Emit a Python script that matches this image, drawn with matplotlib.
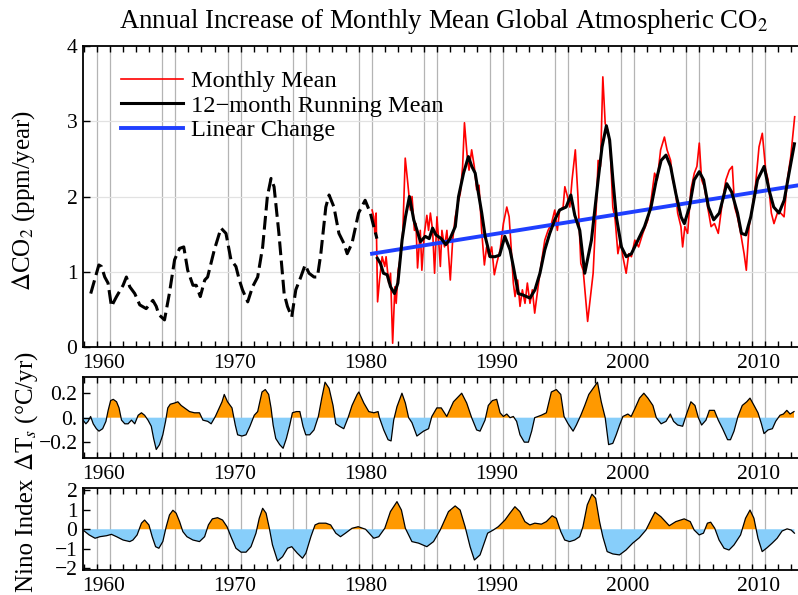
import numpy as np
import matplotlib
matplotlib.use('Agg')
import matplotlib.pyplot as plt

plt.rcParams['font.family'] = ['Liberation Serif', 'DejaVu Serif']
plt.rcParams['mathtext.fontset'] = 'stix'

# --- annual CO2 increase, 12-month running mean before 1981 (dashed) ---
early_years = [1959.05, 1959.67, 1959.87, 1960.12, 1960.37, 1960.63, 1961.02, 1961.52, 1961.77,
               1962.03, 1962.41, 1962.79, 1963.28, 1963.79, 1964.05, 1964.25, 1964.68, 1965.05,
               1965.45, 1965.83, 1966.15, 1966.45, 1966.85, 1967.1, 1967.41, 1967.75, 1967.97,
               1968.48, 1968.99, 1969.37, 1969.75, 1970.13, 1970.39, 1970.63, 1971.03, 1971.4,
               1971.79, 1972.17, 1972.53, 1972.81, 1973.04, 1973.41, 1973.81, 1974.06, 1974.39,
               1974.7, 1975.08, 1975.41, 1975.71, 1976.09, 1976.35, 1976.61, 1976.99, 1977.24,
               1977.61, 1977.99, 1978.36, 1978.62, 1978.99, 1979.49, 1979.99, 1980.39, 1980.65,
               1980.89]
early_vals = [0.71, 1.09, 1.07, 0.93, 0.85, 0.54, 0.67, 0.82, 0.93,
              0.80, 0.71, 0.56, 0.51, 0.62, 0.54, 0.43, 0.36, 0.71,
              1.16, 1.31, 1.33, 1.02, 0.82, 0.82, 0.67, 0.89, 0.93,
              1.29, 1.58, 1.51, 1.16, 1.07, 0.89, 0.76, 0.60, 0.80,
              0.93, 1.33, 2.00, 2.24, 2.13, 1.51, 0.71, 0.54, 0.40,
              0.76, 0.93, 1.09, 0.98, 0.93, 0.93, 1.24, 1.86, 2.02,
              1.86, 1.51, 1.38, 1.24, 1.38, 1.78, 1.95, 1.78, 1.60,
              1.44]

# --- 12-month running mean from 1981 ---
mean_years = [1980.92, 1981.16, 1981.39, 1981.67, 1981.93, 1982.23, 1982.49, 1982.81, 1983.07,
              1983.37, 1983.7, 1983.95, 1984.21, 1984.58, 1984.88, 1985.14, 1985.39, 1985.8,
              1986.15, 1986.47, 1986.87, 1987.12, 1987.5, 1987.87, 1988.13, 1988.39, 1988.64,
              1988.89, 1989.15, 1989.53, 1989.9, 1990.25, 1990.65, 1991.05, 1991.3, 1991.68,
              1992.05, 1992.57, 1992.95, 1993.33, 1993.7, 1994.08, 1994.46, 1994.83, 1995.33,
              1995.69, 1995.99, 1996.37, 1996.75, 1997.26, 1997.77, 1998.07, 1998.4, 1998.65,
              1998.9, 1999.16, 1999.55, 1999.92, 2000.31, 2000.81, 2001.31, 2001.81, 2002.21,
              2002.58, 2002.95, 2003.3, 2003.7, 2004.1, 2004.35, 2004.74, 2005.1, 2005.49,
              2005.82, 2006.19, 2006.59, 2007.02, 2007.59, 2007.96, 2008.41, 2008.71, 2009.04,
              2009.42, 2009.93, 2010.44, 2010.81, 2011.17, 2011.57, 2011.97, 2012.34, 2012.75]
mean_vals = [1.18, 1.11, 0.98, 0.96, 0.80, 0.71, 0.85, 1.42, 1.73,
             2.00, 1.69, 1.55, 1.40, 1.47, 1.44, 1.58, 1.49, 1.44,
             1.36, 1.44, 1.60, 2.00, 2.31, 2.53, 2.40, 2.31, 2.04,
             1.78, 1.47, 1.20, 1.20, 1.22, 1.47, 1.29, 1.07, 0.71,
             0.69, 0.65, 0.76, 0.98, 1.29, 1.51, 1.69, 1.82, 1.86,
             2.02, 1.75, 1.55, 0.98, 1.42, 2.22, 2.66, 2.94, 2.75,
             2.22, 1.73, 1.33, 1.20, 1.24, 1.42, 1.60, 1.86, 2.22,
             2.48, 2.55, 2.40, 2.04, 1.73, 1.64, 1.86, 2.22, 2.33,
             2.22, 1.86, 1.69, 1.78, 2.17, 2.06, 1.78, 1.51, 1.49,
             1.73, 2.22, 2.40, 2.09, 1.86, 1.78, 1.95, 2.31, 2.70]

# --- monthly mean ---
month_years = [1980.52, 1980.65, 1980.73, 1980.83, 1980.94, 1981.09, 1981.29, 1981.49, 1981.59,
               1981.79, 1981.93, 1982.09, 1982.26, 1982.36, 1982.51, 1982.69, 1982.87, 1983.05,
               1983.25, 1983.44, 1983.57, 1983.75, 1983.87, 1983.99, 1984.2, 1984.32, 1984.51,
               1984.7, 1984.83, 1984.97, 1985.14, 1985.29, 1985.47, 1985.6, 1985.73, 1985.85,
               1986.05, 1986.23, 1986.49, 1986.67, 1986.87, 1987.07, 1987.25, 1987.43, 1987.57,
               1987.77, 1987.92, 1988.12, 1988.32, 1988.5, 1988.68, 1988.88, 1989.09, 1989.26,
               1989.45, 1989.65, 1989.85, 1990.03, 1990.29, 1990.54, 1990.8, 1990.98, 1991.13,
               1991.3, 1991.43, 1991.63, 1991.81, 1991.99, 1992.19, 1992.37, 1992.57, 1992.75,
               1992.93, 1993.19, 1993.43, 1993.7, 1993.95, 1994.21, 1994.46, 1994.66, 1994.83,
               1995.1, 1995.23, 1995.43, 1995.61, 1995.78, 1996.03, 1996.23, 1996.45, 1996.63,
               1996.97, 1997.39, 1997.63, 1997.77, 1997.95, 1998.13, 1998.31, 1998.51, 1998.69,
               1998.89, 1999.07, 1999.28, 1999.48, 1999.66, 1999.91, 2000.11, 2000.31, 2000.57,
               2000.86, 2001.18, 2001.57, 2001.81, 2002.08, 2002.28, 2002.54, 2002.83, 2003.03,
               2003.3, 2003.46, 2003.67, 2003.84, 2004.09, 2004.22, 2004.39, 2004.6, 2004.85,
               2005.11, 2005.31, 2005.49, 2005.67, 2005.87, 2006.13, 2006.39, 2006.65, 2006.94,
               2007.27, 2007.52, 2007.78, 2008.01, 2008.19, 2008.4, 2008.65, 2008.91, 2009.08,
               2009.29, 2009.54, 2009.79, 2010.05, 2010.3, 2010.56, 2010.74, 2010.99, 2011.19,
               2011.45, 2011.7, 2011.96, 2012.21, 2012.47, 2012.77]
month_vals = [1.82, 1.73, 1.51, 1.78, 0.60, 0.89, 1.20, 1.07, 1.20,
              0.85, 0.98, 0.05, 0.80, 0.58, 1.02, 1.20, 1.55, 2.51,
              2.17, 1.82, 2.00, 1.55, 1.64, 1.05, 1.55, 1.02, 1.51,
              1.75, 1.55, 1.78, 1.55, 0.98, 1.73, 1.42, 1.07, 1.55,
              1.33, 1.55, 0.89, 1.42, 1.73, 1.91, 2.04, 2.40, 2.98,
              2.55, 2.35, 2.62, 2.40, 2.09, 2.15, 1.55, 1.09, 1.33,
              1.20, 1.33, 0.96, 1.11, 1.29, 1.64, 1.86, 1.73, 1.33,
              0.85, 0.67, 0.89, 0.54, 0.76, 0.58, 0.85, 0.58, 0.76,
              0.45, 0.80, 1.11, 1.42, 1.55, 1.64, 1.82, 1.55, 1.82,
              1.86, 2.13, 2.00, 1.86, 2.22, 2.62, 2.00, 1.11, 1.02,
              0.34, 0.98, 1.86, 2.48, 2.40, 3.59, 2.97, 2.88, 2.66,
              1.86, 1.69, 1.24, 1.42, 1.20, 0.98, 1.24, 1.20, 1.42,
              1.33, 1.51, 1.69, 1.95, 2.31, 2.22, 2.62, 2.79, 2.62,
              2.48, 2.22, 2.09, 1.78, 1.60, 1.33, 1.60, 1.51, 2.09,
              2.31, 2.40, 2.71, 2.22, 2.13, 1.86, 1.60, 1.64, 1.51,
              1.95, 2.22, 2.35, 2.40, 1.86, 1.73, 1.51, 1.24, 1.02,
              1.60, 1.86, 2.17, 2.66, 2.84, 2.35, 2.22, 1.78, 1.64,
              1.78, 1.78, 1.73, 2.22, 2.53, 3.06]

# --- linear change ---
lin_years = [1980.52, 2013.09]
lin_vals = [1.24, 2.15]

# --- temperature change rate ---
dts_years = [1958.46, 1958.68, 1958.85, 1959.04, 1959.24, 1959.48, 1959.68, 1959.96, 1960.21,
             1960.38, 1960.57, 1960.77, 1961.02, 1961.21, 1961.4, 1961.65, 1961.9, 1962.16,
             1962.41, 1962.67, 1962.92, 1963.16, 1963.42, 1963.67, 1963.85, 1964.05, 1964.3,
             1964.55, 1964.76, 1964.93, 1965.12, 1965.45, 1965.7, 1965.95, 1966.21, 1966.59,
             1966.97, 1967.35, 1967.61, 1967.98, 1968.24, 1968.56, 1968.86, 1969.07, 1969.24,
             1969.49, 1969.83, 1970.08, 1970.26, 1970.59, 1970.9, 1971.2, 1971.53, 1971.79,
             1972.12, 1972.37, 1972.63, 1972.81, 1972.97, 1973.17, 1973.47, 1973.73, 1973.98,
             1974.24, 1974.44, 1974.74, 1975.01, 1975.25, 1975.46, 1975.76, 1976.09, 1976.42,
             1976.68, 1976.93, 1977.24, 1977.54, 1977.75, 1978.03, 1978.36, 1978.69, 1978.99,
             1979.38, 1979.51, 1979.89, 1980.27, 1980.65, 1980.98, 1981.08, 1981.41, 1981.74,
             1981.97, 1982.17, 1982.42, 1982.8, 1983.06, 1983.31, 1983.56, 1983.94, 1984.45,
             1984.83, 1985.08, 1985.46, 1985.8, 1986.22, 1986.73, 1987.36, 1987.74, 1988.12,
             1988.5, 1988.76, 1989.14, 1989.39, 1989.7, 1990.03, 1990.29, 1990.54, 1990.8,
             1991.05, 1991.3, 1991.55, 1991.81, 1992.14, 1992.45, 1992.7, 1992.93, 1993.19,
             1993.43, 1993.82, 1994.2, 1994.58, 1994.92, 1995.17, 1995.48, 1995.86, 1996.11,
             1996.45, 1996.75, 1997.06, 1997.39, 1997.72, 1998.01, 1998.31, 1998.57, 1998.89,
             1999.15, 1999.41, 1999.66, 2000.04, 2000.29, 2000.6, 2000.93, 2001.26, 2001.57,
             2001.95, 2002.21, 2002.58, 2002.95, 2003.28, 2003.53, 2003.84, 2004.22, 2004.55,
             2004.85, 2005.16, 2005.42, 2005.67, 2006.0, 2006.26, 2006.64, 2006.94, 2007.27,
             2007.65, 2007.87, 2008.14, 2008.44, 2008.77, 2009.11, 2009.36, 2009.67, 2009.97,
             2010.23, 2010.43, 2010.74, 2011.07, 2011.32, 2011.65, 2011.91, 2012.17, 2012.42,
             2012.72]
dts_vals = [-0.02, -0.05, -0.03, 0.01, -0.05, -0.09, -0.11, -0.09, -0.03,
            0.06, 0.14, 0.15, 0.13, 0.08, -0.02, -0.05, -0.05, -0.02,
            -0.05, 0.02, 0.04, 0.02, -0.02, -0.07, -0.17, -0.26, -0.22,
            -0.14, -0.03, 0.08, 0.11, 0.12, 0.13, 0.10, 0.08, 0.05,
            0.04, 0.04, -0.02, -0.03, -0.05, 0.01, 0.08, 0.13, 0.19,
            0.13, 0.08, -0.06, -0.14, -0.15, -0.14, -0.07, 0.02, 0.05,
            0.21, 0.23, 0.19, 0.08, -0.06, -0.17, -0.22, -0.25, -0.17,
            -0.06, 0.04, 0.05, 0.05, -0.07, -0.14, -0.14, -0.10, 0.01,
            0.16, 0.29, 0.24, 0.10, -0.05, -0.07, -0.09, 0.00, 0.10,
            0.19, 0.21, 0.12, 0.05, 0.04, 0.05, 0.00, -0.10, -0.18,
            -0.19, -0.02, 0.09, 0.20, 0.12, 0.00, -0.04, -0.15, -0.11,
            -0.09, 0.01, 0.08, 0.08, 0.01, 0.13, 0.20, 0.12, 0.00,
            -0.10, -0.11, -0.02, 0.10, 0.14, 0.15, 0.04, 0.01, 0.03,
            0.00, 0.01, -0.03, -0.14, -0.20, -0.20, -0.11, 0.00, 0.01,
            0.02, 0.04, 0.21, 0.23, 0.19, 0.01, -0.05, -0.11, -0.06,
            0.02, 0.10, 0.19, 0.24, 0.29, 0.13, 0.00, -0.22, -0.21,
            -0.14, -0.06, 0.01, 0.03, 0.01, 0.08, 0.16, 0.20, 0.16,
            0.10, 0.00, -0.05, -0.03, 0.03, -0.03, -0.06, -0.07, 0.04,
            0.13, 0.10, 0.00, -0.06, -0.02, 0.06, 0.06, -0.02, -0.09,
            -0.18, -0.18, -0.11, 0.01, 0.10, 0.13, 0.16, 0.10, 0.04,
            -0.05, -0.13, -0.10, -0.09, -0.03, 0.02, 0.03, 0.06, 0.03,
            0.05]

# --- Nino index ---
nino_years = [1958.46, 1958.93, 1959.38, 1959.75, 1960.26, 1960.63, 1961.02, 1961.52, 1962.03,
              1962.27, 1962.59, 1962.92, 1963.16, 1963.49, 1963.74, 1964.0, 1964.25, 1964.55,
              1964.81, 1965.06, 1965.32, 1965.57, 1965.83, 1966.08, 1966.39, 1966.85, 1967.35,
              1967.74, 1968.03, 1968.33, 1968.73, 1969.11, 1969.45, 1969.75, 1970.13, 1970.52,
              1970.9, 1971.28, 1971.66, 1971.91, 1972.17, 1972.43, 1972.68, 1972.92, 1973.31,
              1973.69, 1974.07, 1974.39, 1974.81, 1975.21, 1975.47, 1975.85, 1976.17, 1976.47,
              1976.99, 1977.36, 1977.75, 1978.11, 1978.49, 1978.99, 1979.46, 1980.02, 1980.65,
              1981.03, 1981.49, 1981.92, 1982.42, 1982.76, 1983.06, 1983.56, 1984.07, 1984.7,
              1985.21, 1985.72, 1986.35, 1986.86, 1987.24, 1987.62, 1988.0, 1988.33, 1988.76,
              1989.34, 1989.77, 1990.15, 1990.66, 1991.04, 1991.42, 1991.8, 1992.18, 1992.56,
              1992.94, 1993.44, 1993.82, 1994.26, 1994.58, 1994.92, 1995.22, 1995.6, 1995.98,
              1996.36, 1996.61, 1996.94, 1997.3, 1997.58, 1997.88, 1998.13, 1998.46, 1998.89,
              1999.4, 1999.9, 2000.41, 2000.92, 2001.42, 2001.8, 2002.11, 2002.56, 2003.2,
              2003.7, 2004.34, 2004.8, 2005.1, 2005.48, 2005.81, 2006.11, 2006.36, 2006.67,
              2007.0, 2007.38, 2007.76, 2008.14, 2008.64, 2009.02, 2009.36, 2009.66, 2009.97,
              2010.29, 2010.67, 2011.05, 2011.43, 2011.81, 2012.19, 2012.5, 2012.75]
nino_vals = [-0.04, -0.29, -0.46, -0.38, -0.33, -0.26, -0.38, -0.55, -0.63,
             -0.55, -0.29, 0.31, 0.47, 0.22, -0.38, -0.89, -0.97, -0.63,
             0.13, 0.73, 0.97, 0.82, 0.39, -0.12, -0.38, -0.55, -0.63,
             -0.38, 0.22, 0.53, 0.59, 0.47, 0.13, -0.38, -0.97, -1.17,
             -1.17, -0.89, -0.20, 0.56, 1.07, 0.82, 0.05, -0.80, -1.62,
             -1.40, -0.97, -0.89, -1.22, -1.48, -1.22, -0.38, 0.22, 0.31,
             0.31, 0.22, -0.20, -0.38, -0.20, 0.05, 0.13, 0.00, -0.46,
             -0.38, 0.05, 0.90, 1.41, 0.98, 0.05, -0.63, -0.71, -0.89,
             -0.63, -0.04, 0.90, 1.19, 0.98, 0.13, -0.89, -1.57, -1.31,
             -0.20, -0.04, 0.13, 0.47, 0.82, 1.15, 0.90, 0.39, 0.22,
             0.31, 0.26, 0.39, 0.69, 0.56, -0.12, -0.55, -0.63, -0.55,
             -0.38, 0.13, 1.24, 1.79, 1.58, 0.39, -0.38, -1.14, -1.26,
             -1.31, -1.06, -0.71, -0.43, -0.04, 0.47, 0.87, 0.64, 0.18,
             0.39, 0.53, 0.39, -0.04, -0.29, -0.20, 0.31, 0.36, 0.05,
             -0.55, -0.97, -1.06, -0.80, -0.29, 0.56, 0.98, 0.56, -0.46,
             -1.14, -0.94, -0.71, -0.46, -0.09, 0.02, -0.04, -0.20]

decades = [1960, 1970, 1980, 1990, 2000, 2010]
mark_years = [1960, 1965, 1970, 1975, 1980, 1985, 1990, 1995, 2000, 2005, 2010]

ORANGE = '#ff9900'
SKY = '#87cefa'
GRAYLINE = '#b4b4b4'

W, H = 798, 595
fig = plt.figure(figsize=(W / 100, H / 100), dpi=100)
left = 83 / W
width = 716 / W
ax1 = fig.add_axes([left, 1 - 347 / H, width, 301 / H])
ax2 = fig.add_axes([left, 1 - 457.7 / H, width, 81 / H])
ax3 = fig.add_axes([left, 1 - 570 / H, width, 81.7 / H])

for ax in (ax1, ax2, ax3):
    ax.set_xlim(1958.46, 2013.1)
    for y in mark_years:
        ax.axvline(y - 0.5, color=GRAYLINE, lw=0.9, zorder=0)
        ax.axvline(y + 0.5, color=GRAYLINE, lw=0.9, zorder=0)
    ax.set_xticks(decades)
    ax.set_xticklabels([str(d) for d in decades])
    ax.set_xticks(np.arange(1958.5, 2013, 1.0), minor=True)
    ax.tick_params(axis='x', which='major', length=0, labelsize=15.5, pad=5)
    ax.tick_params(axis='x', which='minor', direction='in', length=4, width=1.0,
                   top=True, bottom=True)
    ax.tick_params(axis='y', which='major', direction='in', length=5, width=1.0,
                   labelsize=15.5, pad=4)
    for s in ('left', 'top', 'bottom'):
        ax.spines[s].set_linewidth(1.3)
    ax.spines['right'].set_visible(False)

# top panel
ax1.set_ylim(0, 4)
ax1.set_yticks([0, 1, 2, 3, 4])
for y in (1, 2, 3):
    ax1.axhline(y, color='#e2e2e2', lw=0.9, zorder=0)
ax1.plot(early_years, early_vals, color='black', lw=2.2, dashes=(4.5, 1.8), zorder=4)
ax1.plot(month_years, month_vals, color='#ff0000', lw=1.2, zorder=2, label='Monthly Mean')
ax1.plot(mean_years, mean_vals, color='black', lw=2.2, zorder=4, label='12\u2212month Running Mean')
ax1.plot(lin_years, lin_vals, color='#1f3fff', lw=2.8, zorder=3, label='Linear Change')
ax1.legend(loc='upper left', bbox_to_anchor=(0.039, 0.952), frameon=False, fontsize=17.6,
           handlelength=2.55, handletextpad=0.33, labelspacing=0.1, borderaxespad=0)

# middle panel
dts = np.array(dts_vals)
ax2.set_ylim(-0.327, 0.335)
ax2.set_yticks([-0.2, 0.0, 0.2])
ax2.set_yticklabels(['\u22120.2', '0.', '0.2'])
ax2.fill_between(dts_years, dts, 0, where=dts >= 0, interpolate=True, color=ORANGE, lw=0, zorder=1)
ax2.fill_between(dts_years, dts, 0, where=dts <= 0, interpolate=True, color=SKY, lw=0, zorder=1)
ax2.plot(dts_years, dts, color='black', lw=0.9, zorder=3)

# bottom panel
nino = np.array(nino_vals)
ax3.set_ylim(-2.08, 2.09)
ax3.set_yticks([-2, -1, 0, 1, 2])
ax3.set_yticklabels(['\u22122', '\u22121', '0', '1', '2'])
ax3.fill_between(nino_years, nino, 0, where=nino >= 0, interpolate=True, color=ORANGE, lw=0, zorder=1)
ax3.fill_between(nino_years, nino, 0, where=nino <= 0, interpolate=True, color=SKY, lw=0, zorder=1)
ax3.plot(nino_years, nino, color='black', lw=0.9, zorder=3)

fig.text(444 / W, 1 - 22 / H, 'Annual Increase of Monthly Mean Global Atmospheric CO$_2$',
         ha='center', va='center', fontsize=19.3)
fig.text(24 / W, 1 - 200 / H, r'$\Delta$CO$_2$ (ppm/year)', rotation=90,
         ha='center', va='center', fontsize=18)
fig.text(27 / W, 1 - 411 / H, r'$\Delta$T$_s$ (°C/yr)', rotation=90,
         ha='center', va='center', fontsize=18)
fig.text(27 / W, 1 - 535 / H, 'Nino Index', rotation=90,
         ha='center', va='center', fontsize=18)

fig.savefig('out.png', dpi=100)
